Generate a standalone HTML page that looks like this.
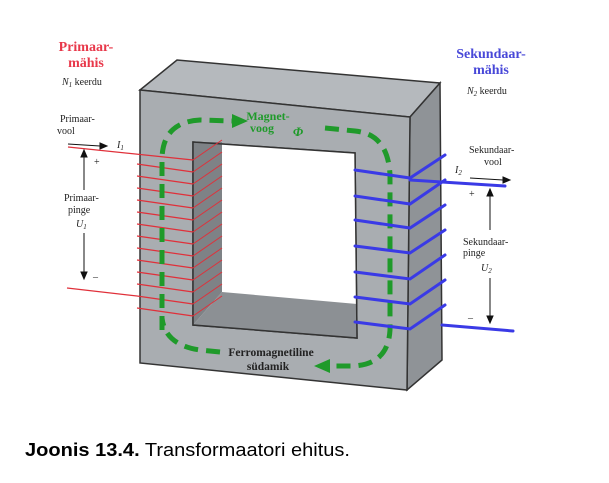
<!DOCTYPE html>
<html><head><meta charset="utf-8"><style>
html,body{margin:0;padding:0;background:#fff;width:609px;height:483px;overflow:hidden}
svg{display:block}
</style></head><body>
<svg width="609" height="483" viewBox="0 0 609 483" xmlns="http://www.w3.org/2000/svg" font-family="Liberation Serif, serif">
<polygon points="140,90 177,60 440,83 410,117" fill="#b5b9bd" stroke="#333" stroke-width="1.5"/>
<polygon points="410,117 440,83 442,360 407,390" fill="#8f9397" stroke="#333" stroke-width="1.5"/>
<path d="M140,90 L410,117 L407,390 L140,363 Z M193,142 L193,325 L357,338 L355,153 Z" fill="#a9adb1" fill-rule="evenodd" stroke="#333" stroke-width="1.5"/>
<polygon points="193,142 355,153 357,338 193,325" fill="#fff"/>
<polygon points="193,142 222,142 222,292 193,325" fill="#7e8286"/>
<polygon points="193,325 222,292 357,304 357,338" fill="#8c9094"/>
<polygon points="193,142 355,153 357,338 193,325" fill="none" stroke="#333" stroke-width="1.5"/>
<g stroke="#e0303a" stroke-width="1">
<line x1="193" y1="160" x2="222" y2="140"/><line x1="193" y1="172" x2="222" y2="152"/><line x1="193" y1="184" x2="222" y2="164"/><line x1="193" y1="196" x2="222" y2="176"/><line x1="193" y1="208" x2="222" y2="188"/><line x1="193" y1="220" x2="222" y2="200"/><line x1="193" y1="232" x2="222" y2="212"/><line x1="193" y1="244" x2="222" y2="224"/><line x1="193" y1="256" x2="222" y2="236"/><line x1="193" y1="268" x2="222" y2="248"/><line x1="193" y1="280" x2="222" y2="260"/><line x1="193" y1="292" x2="222" y2="272"/><line x1="193" y1="304" x2="222" y2="284"/><line x1="193" y1="316" x2="222" y2="296"/>
</g>
<g stroke="#e0303a" stroke-width="1.2">
<line x1="68" y1="147" x2="193" y2="160"/>
<line x1="137" y1="164" x2="193" y2="172"/><line x1="137" y1="176" x2="193" y2="184"/><line x1="137" y1="188" x2="193" y2="196"/><line x1="137" y1="200" x2="193" y2="208"/><line x1="137" y1="212" x2="193" y2="220"/><line x1="137" y1="224" x2="193" y2="232"/><line x1="137" y1="236" x2="193" y2="244"/><line x1="137" y1="248" x2="193" y2="256"/><line x1="137" y1="260" x2="193" y2="268"/><line x1="137" y1="272" x2="193" y2="280"/><line x1="137" y1="284" x2="193" y2="292"/><line x1="137" y1="296" x2="193" y2="304"/><line x1="137" y1="308" x2="193" y2="316"/>
<line x1="67" y1="288" x2="137" y2="296"/>
</g>
<g fill="none" stroke="#1f9a2a" stroke-width="5" stroke-dasharray="14,8">
<path d="M162,330 L162,160 Q162,122 200,120 L232,121"/>
<path d="M325,128 L355,131 Q388,134 390,175 L390,330 Q388,366 350,366 L330,366"/>
<path d="M220,352 L200,350 Q165,345 162,318"/>
</g>
<polygon points="232,114 248,121 232,128" fill="#1f9a2a"/>
<polygon points="330,359 314,366 330,373" fill="#1f9a2a"/>
<g stroke="#3a3ae6" stroke-width="3" fill="none" stroke-linecap="round">
<path d="M355,170 L410,178 L445,155"/>
<path d="M355,196 L410,204 L445,180"/>
<path d="M355,220 L410,228 L445,205"/>
<path d="M355,246 L410,253 L445,230"/>
<path d="M355,272 L410,279 L445,255"/>
<path d="M355,297 L410,304 L445,280"/>
<path d="M355,322 L410,329 L445,305"/>
<path d="M410,180 L505,186"/>
<path d="M442,325 L513,331"/>
</g>
<g text-anchor="middle">
<text x="86" y="51" font-size="14" font-weight="bold" fill="#e8384a">Primaar-</text>
<text x="86" y="67" font-size="14" font-weight="bold" fill="#e8384a">mähis</text>
<text x="491" y="58" font-size="14" font-weight="bold" fill="#4848d8">Sekundaar-</text>
<text x="491" y="74" font-size="14" font-weight="bold" fill="#4848d8">mähis</text>
<text x="268" y="120" font-size="12" font-weight="bold" fill="#1f9a2a">Magnet-</text>
<text x="262" y="132" font-size="12" font-weight="bold" fill="#1f9a2a">voog</text>
<text x="298" y="136" font-size="13" font-weight="bold" font-style="italic" fill="#1f9a2a">Φ</text>
<text x="271" y="356" font-size="11.5" font-weight="bold" fill="#222">Ferromagnetiline</text>
<text x="268" y="370" font-size="11.5" font-weight="bold" fill="#222">südamik</text>
</g>
<g font-size="10" fill="#222">
<text x="62" y="85"><tspan font-style="italic">N</tspan><tspan font-size="7" dy="2" font-style="italic">1</tspan><tspan dy="-2"> keerdu</tspan></text>
<text x="467" y="94"><tspan font-style="italic">N</tspan><tspan font-size="7" dy="2" font-style="italic">2</tspan><tspan dy="-2"> keerdu</tspan></text>
<text x="60" y="122">Primaar-</text>
<text x="57" y="134">vool</text>
<text x="117" y="148" font-style="italic">I<tspan font-size="7" dy="2">1</tspan></text>
<text x="94" y="165">+</text>
<text x="64" y="201">Primaar-</text>
<text x="68" y="213">pinge</text>
<text x="76" y="227" font-style="italic">U<tspan font-size="7" dy="2">1</tspan></text>
<text x="93" y="280">–</text>
<text x="469" y="153">Sekundaar-</text>
<text x="484" y="165">vool</text>
<text x="455" y="173" font-style="italic">I<tspan font-size="7" dy="2">2</tspan></text>
<text x="469" y="197">+</text>
<text x="463" y="245">Sekundaar-</text>
<text x="463" y="256">pinge</text>
<text x="481" y="271" font-style="italic">U<tspan font-size="7" dy="2">2</tspan></text>
<text x="468" y="321">–</text>
</g>
<g stroke="#111" stroke-width="1" fill="#111">
<line x1="68" y1="144" x2="100" y2="146"/><polygon points="100,143 107,146 100,149"/>
<line x1="84" y1="157" x2="84" y2="190"/><polygon points="81,157 84,150 87,157"/>
<line x1="84" y1="233" x2="84" y2="272"/><polygon points="81,272 84,279 87,272"/>
<line x1="470" y1="178" x2="503" y2="180"/><polygon points="503,177 510,180 503,183"/>
<line x1="490" y1="196" x2="490" y2="230"/><polygon points="487,196 490,189 493,196"/>
<line x1="490" y1="278" x2="490" y2="316"/><polygon points="487,316 490,323 493,316"/>
</g>
<text x="25" y="456" font-family="Liberation Sans, sans-serif" font-size="18" fill="#000" textLength="325" lengthAdjust="spacingAndGlyphs"><tspan font-weight="bold">Joonis 13.4.</tspan> Transformaatori ehitus.</text>
</svg>
</body></html>
